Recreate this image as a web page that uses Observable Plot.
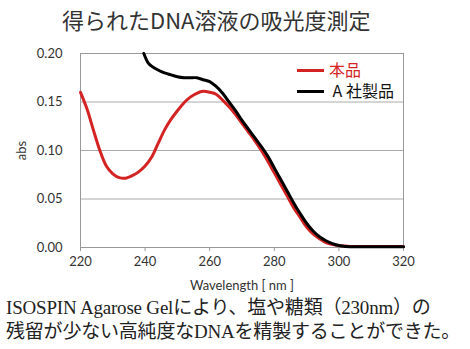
<!DOCTYPE html>
<html><head><meta charset="utf-8">
<script src="https://cdn.jsdelivr.net/npm/d3@7"></script>
<script src="https://cdn.jsdelivr.net/npm/@observablehq/plot@0.6"></script>
<style>
body{margin:0;background:#fff;}
#wrap{position:relative;width:470px;height:349px;overflow:hidden;font-family:Lato,"Noto Sans CJK JP",sans-serif;}
#chart{position:absolute;top:0;left:0;z-index:0;}
#title{position:absolute;top:3px;left:62px;font-size:22px;color:#333;font-family:"Noto Sans CJK JP",sans-serif;white-space:nowrap;z-index:2;}
#caption{position:absolute;top:296px;left:6px;font-size:19px;line-height:24px;letter-spacing:-0.2px;color:#222;font-family:"Liberation Serif","Noto Sans CJK JP",serif;white-space:nowrap;z-index:2;}
.leg{position:absolute;font-size:16px;font-family:"Noto Sans CJK JP",sans-serif;white-space:nowrap;line-height:18px;z-index:2;}
.leg span.sw{display:inline-block;width:27px;height:3px;vertical-align:middle;margin-right:5px;position:relative;top:-1px;}
</style></head>
<body><div id="wrap">
<div id="chart"></div>
<div id="title">得られたDNA溶液の吸光度測定</div>
<div class="leg" style="left:297px;top:60px;color:#d42323;"><span class="sw" style="background:#d42323"></span>本品</div>
<div class="leg" style="left:297px;top:81px;color:#111;"><span class="sw" style="background:#000"></span>&nbsp;A 社製品</div>
<div id="caption">ISOSPIN Agarose Gelにより、塩や糖類（230nm）の<br>残留が少ない高純度なDNAを精製することができた。</div>
</div>
<script>
const xTicks = [220, 240, 260, 280, 300, 320];
const yTicks = [0, 0.05, 0.10, 0.15, 0.20];
const seriesNames = ["本品", "A 社製品"];
const seriesColors = ["#d42323", "#000000"];

const redWl = [220,222,224,226,228,230,232,234,236,238,240,242,244,246,248,250,252,254,256,258,260,262,264,266,268,270,272,274,276,278,280,282,284,286,288,290,292,294,296,298,300,302,304,308,312,316,320];
const redAbs = [0.160,0.143,0.121,0.100,0.084,0.076,0.072,0.0715,0.074,0.078,0.084,0.093,0.107,0.121,0.132,0.141,0.149,0.155,0.159,0.161,0.160,0.158,0.152,0.145,0.137,0.128,0.119,0.110,0.100,0.089,0.077,0.065,0.053,0.041,0.031,0.021,0.014,0.009,0.005,0.003,0.002,0.0015,0.001,0.001,0.001,0.001,0.001];

const blackWl = [239.6,241,242,244,246,248,250,252,254,256,258,260,262,264,266,268,270,272,274,276,278,280,282,284,286,288,290,292,294,296,298,300,302,304,308,312,316,320];
const blackAbs = [0.200,0.190,0.187,0.183,0.180,0.178,0.176,0.175,0.175,0.175,0.173,0.171,0.166,0.159,0.150,0.141,0.131,0.122,0.113,0.104,0.094,0.082,0.070,0.058,0.046,0.035,0.025,0.017,0.011,0.007,0.004,0.002,0.001,0.0008,0.0008,0.0008,0.0008,0.0008];

const red = redWl.map((w,i)=>({wl:w, abs:redAbs[i], s:seriesNames[0]}));
const black = blackWl.map((w,i)=>({wl:w, abs:blackAbs[i], s:seriesNames[1]}));

const chart = Plot.plot({
  width: 470, height: 300,
  marginLeft: 80, marginRight: 67, marginTop: 53, marginBottom: 53,
  style: {fontFamily: "Lato, 'Noto Sans CJK JP', sans-serif", fontSize: "13px", color: "#333", background: "transparent"},
  x: {domain: [220, 320]},
  y: {domain: [0, 0.2]},
  marks: [
    Plot.gridY(yTicks.slice(1,4), {stroke: "#aaa", strokeOpacity: 1, strokeWidth: 1}),
    Plot.frame({stroke: "#999", strokeWidth: 1}),
    Plot.axisX({ticks: xTicks, tickSize: 4, tickPadding: 5, stroke: "#999", fill: "#333", fontSize: 13,
      label: "Wavelength [ nm ]", labelAnchor: "center", labelArrow: "none", labelOffset: 42}),
    Plot.axisY({ticks: yTicks, tickSize: 0, tickPadding: 18, tickFormat: d3.format(".2f"), fill: "#333", fontSize: 13,
      label: "abs", labelAnchor: "center", labelArrow: "none", labelOffset: 64}),
    Plot.line(red, {x: "wl", y: "abs", stroke: seriesColors[0], strokeWidth: 3, curve: "catmull-rom"}),
    Plot.line(black, {x: "wl", y: "abs", stroke: seriesColors[1], strokeWidth: 3, curve: "catmull-rom"})
  ]
});
document.getElementById("chart").appendChild(chart);
</script>
</body></html>
